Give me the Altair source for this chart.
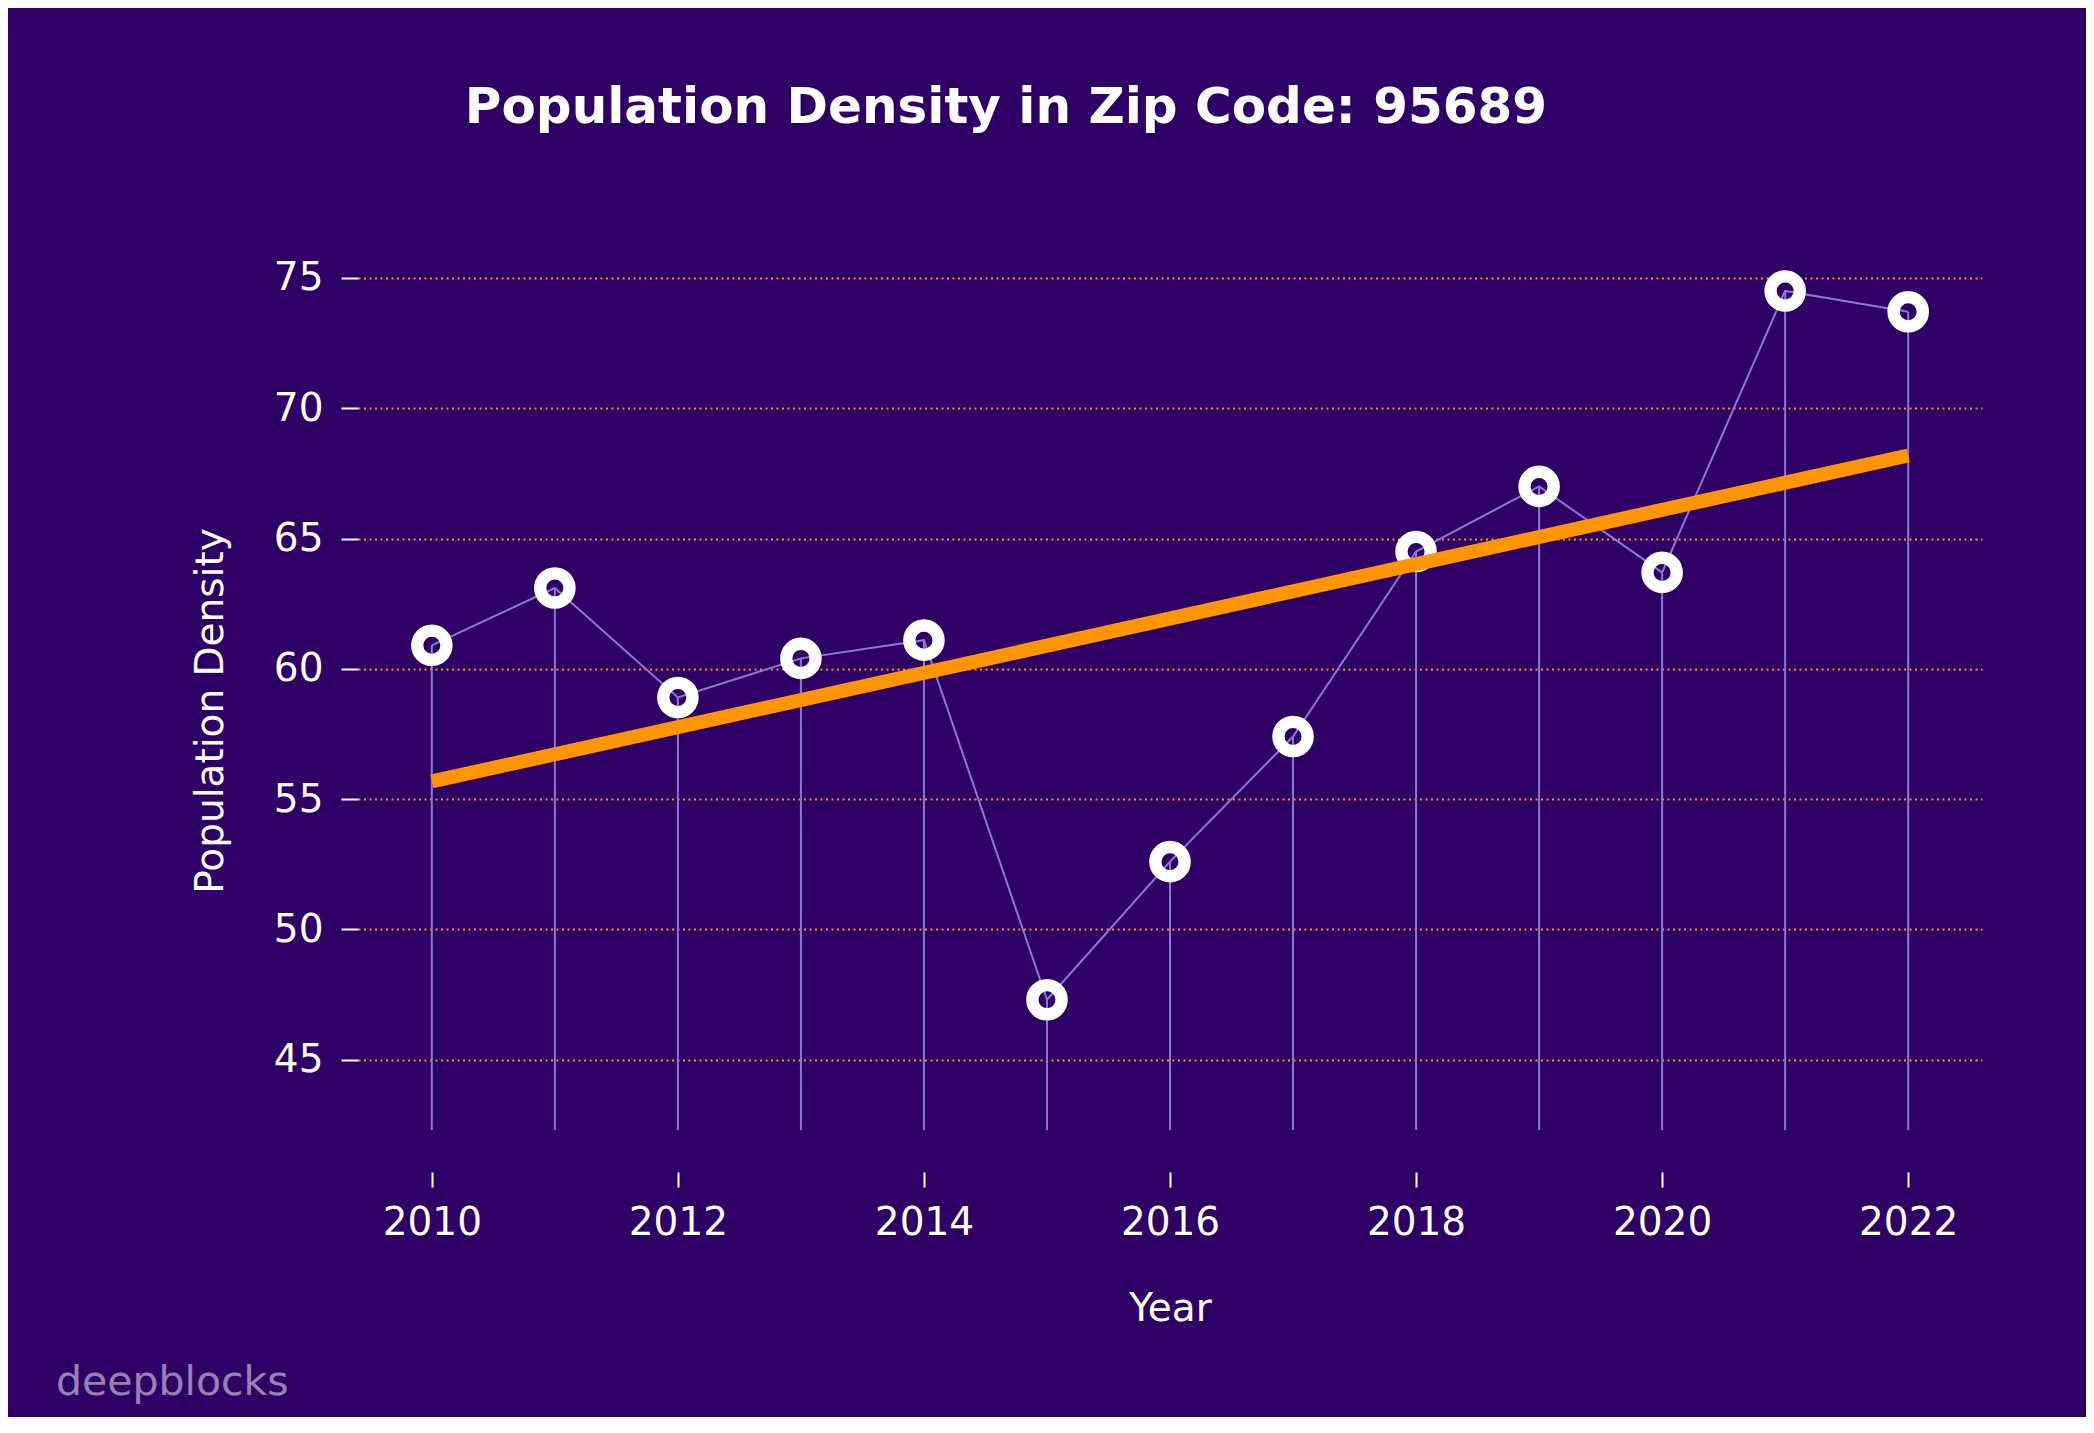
import altair as alt
import pandas as pd

years = [2010, 2011, 2012, 2013, 2014, 2015, 2016, 2017, 2018, 2019, 2020, 2021, 2022]
density = [60.9, 63.1, 58.9, 60.4, 61.1, 47.3, 52.6, 57.4, 64.5, 67.0, 63.7, 74.5, 73.7]
stem_base = 42.3
x_ticks = [2010, 2012, 2014, 2016, 2018, 2020, 2022]
y_ticks = [45, 50, 55, 60, 65, 70, 75]
title_text = "Population Density in Zip Code: 95689"
watermark = "deepblocks"

BG = "#2e0066"
STEM = "#8c78d4"
ORANGE = "#ff9500"
FONT = "DejaVu Sans"

df = pd.DataFrame({"year": years, "density": density, "base": [stem_base] * len(years)})

W, H = 1624, 923

x = alt.X("year:Q", scale=alt.Scale(domain=[2009.4, 2022.6], nice=False, zero=False),
          axis=alt.Axis(values=x_ticks, format="d", title="Year", grid=False, domain=False,
                        tickColor="white", tickSize=15, tickWidth=2,
                        labelColor="white", labelFont=FONT, labelFontSize=39,
                        labelBaseline="alphabetic", labelPadding=47,
                        titleColor="white", titleFont=FONT, titleFontSize=39,
                        titleFontWeight="normal", titleBaseline="alphabetic",
                        titleX=W / 2, titleY=148))
y = alt.Y("density:Q", scale=alt.Scale(domain=[40.69, 76.11], nice=False, zero=False),
          axis=alt.Axis(values=y_ticks, title="Population Density", grid=True,
                        gridColor=ORANGE, gridDash=[2, 3.5], gridWidth=2, domain=False,
                        tickColor="white", tickSize=17, tickWidth=2,
                        labelColor="white", labelFont=FONT, labelFontSize=39,
                        labelPadding=18,
                        titleColor="white", titleFont=FONT, titleFontSize=39,
                        titleFontWeight="normal", titleBaseline="middle",
                        titleX=-148, titleY=H / 2))

base = alt.Chart(df)

stems = base.mark_rule(color=STEM, strokeWidth=2).encode(
    x=x, y=y, y2="base:Q")
line = base.mark_line(color=STEM, strokeWidth=2).encode(x=x, y=y)
rings = base.mark_point(shape="circle", filled=False, size=858, stroke="white",
                        strokeWidth=12.3, opacity=1).encode(x=x, y=y)
trend = base.transform_regression("year", "density").mark_line(
    color=ORANGE, strokeWidth=14, strokeCap="butt").encode(x=x, y=y)

wm = alt.Chart(pd.DataFrame({"t": [watermark]})).mark_text(
    font=FONT, fontSize=41, color="white", opacity=0.5, align="left",
    baseline="alphabetic").encode(text="t:N", x=alt.value(-302), y=alt.value(1146))

chart = alt.layer(stems, line, rings, trend, wm).properties(
    width=W, height=H, background=BG,
    padding={"left": 350, "top": 241, "right": 104, "bottom": 245},
    autosize=alt.AutoSizeParams(type="none"),
    title=alt.TitleParams(title_text, font=FONT, fontSize=50, fontWeight="bold",
                          color="white", anchor="middle", dx=-164, offset=76,
                          baseline="alphabetic"),
).configure_view(stroke=None)

chart.save("out.html", embed_options={"renderer": "svg", "actions": False})
